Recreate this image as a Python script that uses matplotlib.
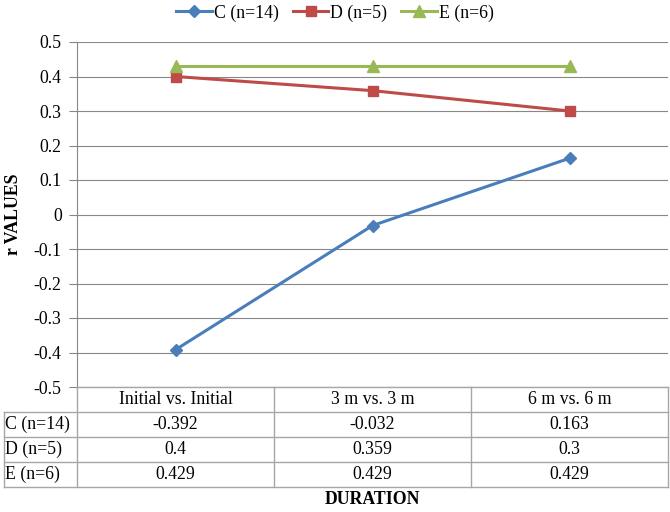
import numpy as np
import matplotlib
matplotlib.use('Agg')
import matplotlib.pyplot as plt

plt.rcParams['font.family'] = ['Liberation Serif', 'DejaVu Serif']

categories = ['Initial vs. Initial', '3 m vs. 3 m', '6 m vs. 6 m']
series_names = ['C (n=14)', 'D (n=5)', 'E (n=6)']
c_vals = [-0.392, -0.032, 0.163]
d_vals = [0.4, 0.359, 0.3]
e_vals = [0.429, 0.429, 0.429]
table_text = [['-0.392', '-0.032', '0.163'],
              ['0.4', '0.359', '0.3'],
              ['0.429', '0.429', '0.429']]
yticks = [-0.5, -0.4, -0.3, -0.2, -0.1, 0, 0.1, 0.2, 0.3, 0.4, 0.5]

colors = ['#4A7EBB', '#BE4B48', '#98B954']
markers = ['D', 's', '^']
msizes = [6, 7, 8]
fs = 12.8

W, H = 670., 512.
fig = plt.figure(figsize=(W / 100, H / 100), dpi=100)

# plot area in pixels
px0, px1 = 77, 668
py_top, py_bot = 42, 387
ax = fig.add_axes([px0 / W, 1 - py_bot / H, (px1 - px0) / W, (py_bot - py_top) / H])

x = np.arange(len(categories))
for vals, name, c, m, ms in zip([c_vals, d_vals, e_vals], series_names, colors, markers, msizes):
    ax.plot(x, vals, color=c, marker=m, markersize=ms, lw=2.2, label=name, zorder=3)

ax.set_xlim(-0.5, len(categories) - 0.5)
ax.set_ylim(-0.5, 0.5)
ax.set_yticks(yticks)
ax.set_yticklabels(['%g' % v for v in yticks], fontsize=fs)
ax.set_xticks([])
ax.grid(axis='y', color='#878787', lw=0.8)
ax.set_axisbelow(True)
for s in ['top', 'right', 'bottom']:
    ax.spines[s].set_visible(False)
ax.spines['left'].set_color('#878787')
ax.tick_params(axis='y', length=6, color='#878787', pad=5)
ax.set_ylabel('r VALUES', fontsize=fs, fontweight='bold', va='center')
ax.yaxis.set_label_coords(-(px0 - 14) / (px1 - px0), 0.5)

leg = ax.legend(loc='center', bbox_to_anchor=(335 / W, 1 - 13 / H),
                bbox_transform=fig.transFigure, ncol=3, frameon=False, fontsize=fs,
                handlelength=2.0, columnspacing=0.8, handletextpad=0.1, borderpad=0)

# data table below the plot
tx0, ty_top, row_h = 4, 387, 25
ty_bot = ty_top + 4 * row_h
tab = fig.add_axes([0, 0, 1, 1])
tab.set_xlim(0, W)
tab.set_ylim(H, 0)
tab.axis('off')
tab.patch.set_alpha(0)
gc = '#A6A6A6'
col_w = (px1 - px0) / len(categories)
col_edges = [px0 + i * col_w for i in range(len(categories) + 1)]

tab.plot([px0, px1], [ty_top, ty_top], color=gc, lw=1)
for i in range(1, 5):
    y = ty_top + i * row_h
    tab.plot([tx0, px1], [y, y], color=gc, lw=1)
for xe in col_edges:
    tab.plot([xe, xe], [ty_top, ty_bot], color=gc, lw=1)
tab.plot([tx0, tx0], [ty_top + row_h, ty_bot], color=gc, lw=1)

for j, cat in enumerate(categories):
    tab.text(col_edges[j] + col_w / 2, ty_top + row_h / 2, cat, ha='center', va='center', fontsize=fs)
for i, name in enumerate(series_names):
    yc = ty_top + (i + 1.5) * row_h
    tab.text(tx0 + 1, yc, name, ha='left', va='center', fontsize=fs)
    for j in range(len(categories)):
        tab.text(col_edges[j] + col_w / 2, yc, table_text[i][j], ha='center', va='center', fontsize=fs)

tab.text((px0 + px1) / 2, 499, 'DURATION', ha='center', va='center', fontsize=fs, fontweight='bold')

fig.savefig('out.png', dpi=100)
